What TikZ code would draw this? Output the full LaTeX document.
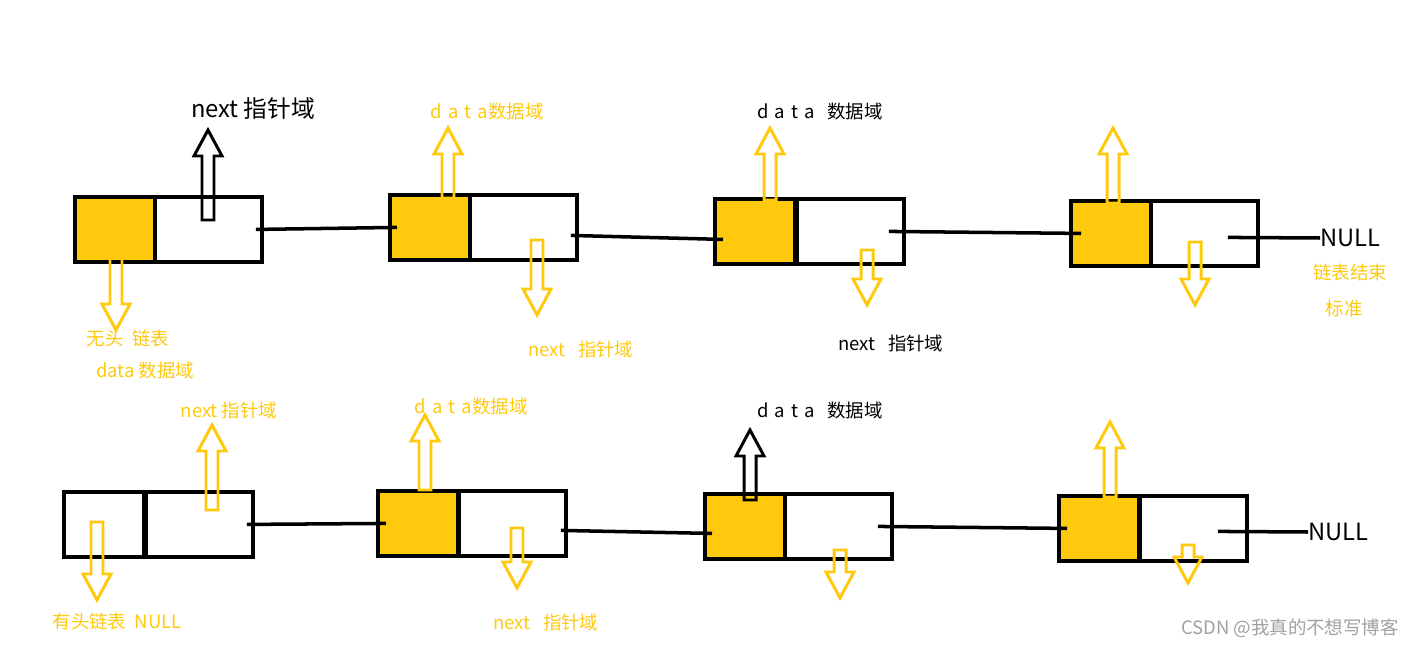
\documentclass[tikz,border=0pt]{standalone}
\usepackage{fontspec}
\setmainfont{Noto Sans CJK SC}
\definecolor{paintyellow}{RGB}{255,201,14}
\definecolor{marktext}{RGB}{160,160,160}
% hollow block arrow: colour, x, base y, tip y, direction (1 up, -1 down)
\newcommand{\hollowarrow}[5]{%
\draw[#1, line width=1.7pt, line join=miter]
 ({#2-6},#3) -- ({#2-6},{#4+26*#5}) -- ({#2-14},{#4+26*#5}) -- (#2,#4)
 -- ({#2+14},{#4+26*#5}) -- ({#2+6},{#4+26*#5}) -- ({#2+6},#3) -- cycle;}
\begin{document}
\begin{tikzpicture}[x=0.02cm, y=-0.02cm,
 cell/.style={draw, line width=2.2pt, minimum height=1.3cm, inner sep=0pt, anchor=north west},
 dcell/.style={cell, minimum width=1.6cm},
 ncell/.style={cell, minimum width=2.14cm},
 link/.style={line width=2pt},
 ylab/.style={text=paintyellow, font=\fontsize{10.5pt}{12pt}\selectfont, inner sep=0pt},
 blab/.style={ylab, text=black}]
\useasboundingbox (0,0) rectangle (1420,648);

% upper list
\node[dcell, fill=paintyellow] (d1) at (73,195) {};
\node[ncell] (n1) at (153,195) {};
\node[dcell, fill=paintyellow] (d2) at (388,193) {};
\node[ncell] (n2) at (468,193) {};
\node[dcell, fill=paintyellow] (d3) at (713,197) {};
\node[ncell] (n3) at (795,197) {};
\node[dcell, fill=paintyellow] (d4) at (1069,199) {};
\node[ncell] (n4) at (1149,199) {};
\node[blab, font=\fontsize{13.5pt}{15pt}\selectfont, anchor=west] (null1) at (1320,238) {NULL};

\draw[link] ([xshift=-0.16cm]n1.east) -- ([xshift=0.18cm]d2.west);
\draw[link] ([shift={(-0.16cm,-0.16cm)}]n2.east) -- ([shift={(0.2cm,-0.16cm)}]d3.west);
\draw[link] ([xshift=-0.34cm]n3.east) -- ([xshift=0.24cm]d4.west);
\draw[link] ([shift={(-0.64cm,-0.08cm)}]n4.east) -- (null1.west);

\hollowarrow{black}{208}{220}{130}{1}
\hollowarrow{paintyellow}{448}{198}{128}{1}
\hollowarrow{paintyellow}{770}{200}{128}{1}
\hollowarrow{paintyellow}{1113}{203}{128}{1}
\hollowarrow{paintyellow}{116}{255}{330}{-1}
\hollowarrow{paintyellow}{537}{240}{315}{-1}
\hollowarrow{paintyellow}{867}{250}{305}{-1}
\hollowarrow{paintyellow}{1195}{242}{305}{-1}

\node[blab, font=\fontsize{13.5pt}{15pt}\selectfont] (t1) at (253,108) {next 指针域};
\node[ylab] (t2) at (487,112) {d\,\,a\,\,t\,\,a数据域};
\node[blab] (t3) at (820,112) {d\,\,a\,\,t\,\,a \ \ 数据域};
\node[ylab] (t4) at (128,338) {无头\ \ 链表};
\node[ylab] (t5) at (145,371) {data 数据域};
\node[ylab] (t6) at (581,349) {next \ \ 指针域};
\node[blab] (t7) at (891,343) {next \ \ 指针域};
\node[ylab] (t8) at (1350,272) {链表结束};
\node[ylab] (t9) at (1344,308) {标准};

% lower list
\node[dcell] (e1) at (62,490) {};
\node[ncell] (m1) at (144,490) {};
\node[dcell, fill=paintyellow] (e2) at (376,489) {};
\node[ncell] (m2) at (457,489) {};
\node[dcell, fill=paintyellow] (e3) at (703,492) {};
\node[ncell] (m3) at (783,492) {};
\node[dcell, fill=paintyellow] (e4) at (1057,494) {};
\node[ncell] (m4) at (1138,494) {};
\node[blab, font=\fontsize{13.5pt}{15pt}\selectfont, anchor=west] (null2) at (1308,532) {NULL};

\draw[link] ([xshift=-0.16cm]m1.east) -- ([xshift=0.2cm]e2.west);
\draw[link] ([shift={(-0.14cm,-0.14cm)}]m2.east) -- ([shift={(0.18cm,-0.14cm)}]e3.west);
\draw[link] ([xshift=-0.32cm]m3.east) -- ([xshift=0.2cm]e4.west);
\draw[link] ([shift={(-0.62cm,-0.06cm)}]m4.east) -- (null2.west);

\hollowarrow{paintyellow}{212}{510}{425}{1}
\hollowarrow{paintyellow}{425}{490}{415}{1}
\hollowarrow{black}{750}{500}{430}{1}
\hollowarrow{paintyellow}{1110}{497}{422}{1}
\hollowarrow{paintyellow}{97}{522}{600}{-1}
\hollowarrow{paintyellow}{517}{528}{588}{-1}
\hollowarrow{paintyellow}{840}{550}{598}{-1}
\hollowarrow{paintyellow}{1188}{545}{583}{-1}

\node[ylab] (s1) at (229,410) {next 指针域};
\node[ylab] (s2) at (471,407) {d\,\,a\,\,t\,\,a数据域};
\node[blab] (s3) at (820,411) {d\,\,a\,\,t\,\,a \ \ 数据域};
\node[ylab] (s4) at (117,621) {有头链表\ \ NULL};
\node[ylab] (s5) at (546,622) {next \ \ 指针域};
\node[ylab, text=marktext] (mark) at (1290,628) {CSDN @我真的不想写博客};
\end{tikzpicture}
\end{document}
